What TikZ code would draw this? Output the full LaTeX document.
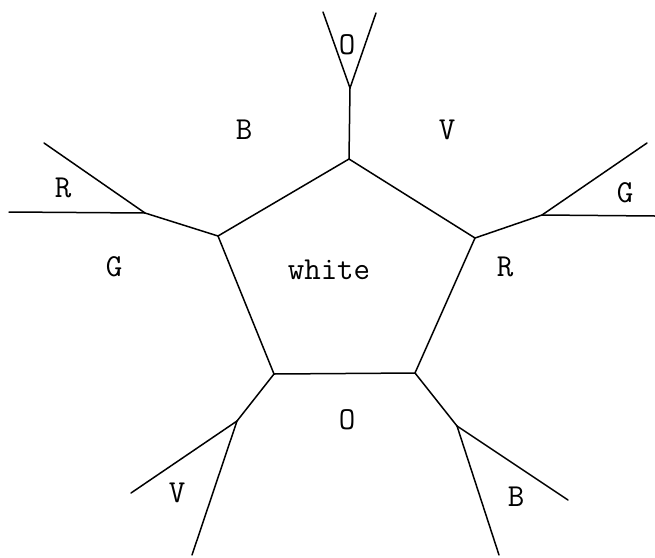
\documentclass[tikz,border=0pt]{standalone}
\usepackage{tikz}
\usetikzlibrary{positioning}
\tikzset{
  edge/.style={line width=1.5pt, line cap=round},
  face/.style={font=\fontsize{32}{36}\selectfont\ttfamily, inner sep=0pt}
}

\begin{document}
\begin{tikzpicture}[x=1pt, y=-1pt]
  \useasboundingbox (0,0) rectangle (655,557);

  % pentagon
  \coordinate (p1) at (349,159);
  \coordinate (p2) at (475,238);
  \coordinate (p3) at (415,373);
  \coordinate (p4) at (274,374);
  \coordinate (p5) at (218,236);

  % forks
  \coordinate (f1) at (350,88);
  \coordinate (f2) at (542,215);
  \coordinate (f3) at (457,426);
  \coordinate (f4) at (237,421);
  \coordinate (f5) at (145,213);

  % free ends
  \coordinate (e1a) at (323,12);
  \coordinate (e1b) at (376,13);
  \coordinate (e2a) at (647,143);
  \coordinate (e2b) at (655,216);
  \coordinate (e3a) at (568,500);
  \coordinate (e3b) at (499,555);
  \coordinate (e4a) at (131,493);
  \coordinate (e4b) at (192,555);
  \coordinate (e5a) at (44,143);
  \coordinate (e5b) at (9,212);

  \draw[edge] (p1) -- (p2) -- (p3) -- (p4) -- (p5) -- cycle;

  \foreach \i in {1,...,5} {
    \draw[edge] (p\i) -- (f\i);
    \draw[edge] (f\i) -- (e\i a);
    \draw[edge] (f\i) -- (e\i b);
  }

  % faces
  \node[face] (white) at (329,270) {white};
  \node[face] (topO) at (347,45) {O};
  \node[face] (upB) at (244,130) {B};
  \node[face] (upV) at (447,130) {V};
  \node[face] (farR) at (63,188) {R};
  \node[face] (farG) at (625,193) {G};
  \node[face] (midG) at (114,267) {G};
  \node[face] (midR) at (505,267) {R};
  \node[face] (lowO) at (347,420) {O};
  \node[face] (lowV) at (177,493) {V};
  \node[face] (lowB) at (516,497) {B};
\end{tikzpicture}
\end{document}
